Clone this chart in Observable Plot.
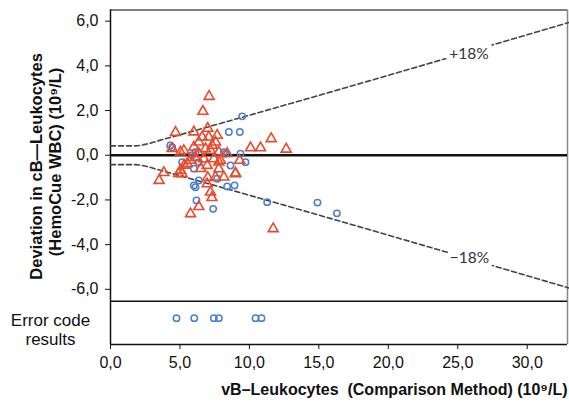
<!DOCTYPE html>
<html><head><meta charset="utf-8">
<script src="https://cdn.jsdelivr.net/npm/d3@7"></script>
<script src="https://cdn.jsdelivr.net/npm/@observablehq/plot@0.6"></script>
<style>body{margin:0;background:#fff}#chart{width:569px;height:405px}</style>
</head><body><div id="chart"></div>
<script>
// Red triangles (x: comparison method, y: deviation)
const triX = [7.1,6.65,4.68,6.0,6.6,7.08,7.68,6.36,7.32,6.84,4.44,5.28,7.2,7.8,10.08,10.8,11.57,12.65,5.76,5.04,3.84,3.5,6.96,7.8,9.0,7.0,8.16,7.2,6.36,5.76,11.71,7.92,9.3,8.4,6.36,6.72,7.44,6.0,5.04,7.56,6.96,5.52,4.9,5.16,7.56,7.8,9.0,6.5,6.1,7.0,5.3,7.3];
const triY = [2.63,1.96,1.02,1.04,0.81,0.81,0.89,0.59,0.44,0.29,0.3,0.21,0.21,0.14,0.33,0.33,0.74,0.27,-0.23,-0.68,-0.78,-1.13,-0.46,-0.61,-0.8,-1.0,-0.98,-1.65,-2.3,-2.62,-3.29,-0.23,-0.23,0.07,0.07,-0.16,-0.16,0.36,0.14,0.59,-1.28,-0.38,-0.82,-0.83,-0.98,-0.31,-0.83,-0.6,-0.1,1.2,-0.45,-1.9];
// Blue circles
const cirX = [9.48,8.52,9.31,4.44,6.12,8.16,9.36,9.72,5.16,6.0,8.64,6.36,6.12,7.68,8.4,8.93,6.19,7.39,11.28,5.88,6.36,14.9,16.3,8.28,6.0,4.3];
const cirY = [1.74,1.04,1.04,0.36,0.14,0.14,0.07,-0.31,-0.31,-0.6,-0.46,-1.13,-1.43,-1.05,-1.4,-1.35,-2.02,-2.4,-2.1,0.0,-0.31,-2.12,-2.6,0.07,-1.35,0.44];
// Error code results (x only)
const errX = [4.75,6.03,7.44,7.8,10.44,10.87];
const errLevel = -7.29;
// ±18% limit lines
const limX = [0,1.8,2.6,3.4,4.5,33];
const limUpper = [0.42,0.42,0.5,0.64,0.83,5.94];
const limLower = [-0.42,-0.42,-0.5,-0.64,-0.83,-5.94];
const yTicks = [-6,-4,-2,0,2,4,6];
const xTicks = [0,5,10,15,20,25,30];
const xTitle = "vB–Leukocytes  (Comparison Method) (10⁹/L)";
const yTitle1 = "Deviation in cB—Leukocytes";
const yTitle2 = "(HemoCue WBC) (10⁹/L)";

const tri = triX.map((x,i)=>({x, y: triY[i]}));
const cir = cirX.map((x,i)=>({x, y: cirY[i]}));
const err = errX.map(x=>({x, y: errLevel}));
const upper = limX.map((x,i)=>({x, y: limUpper[i]}));
const lower = limX.map((x,i)=>({x, y: limLower[i]}));
const fmt = d => d.toFixed(1).replace(".", ",");

const chart = Plot.plot({
  width: 569, height: 405,
  marginLeft: 110, marginRight: 2, marginTop: 9.5, marginBottom: 61,
  x: {domain: [0, 32.9]},
  y: {domain: [-8.47, 6.5]},
  style: {fontFamily: "'Liberation Sans', Arial, sans-serif", fontSize: "16px", color: "#111", background: "#fff"},
  marks: [
    Plot.axisY(yTicks, {tickSize: 5, tickPadding: 7, tickFormat: fmt, label: null, fontSize: 16}),
    Plot.axisX(xTicks, {tickSize: 5, tickPadding: 7, tickFormat: fmt, label: null, fontSize: 16}),
    Plot.ruleY([6.5], {stroke: "#555", strokeWidth: 1.5}),
    Plot.ruleX([32.9], {stroke: "#888", strokeWidth: 1.5}),
    Plot.ruleX([0], {stroke: "#111", strokeWidth: 1.5}),
    Plot.ruleY([-8.47], {stroke: "#111", strokeWidth: 1.5}),
    Plot.ruleY([-6.53], {stroke: "#111", strokeWidth: 1.5}),
    Plot.line(upper, {x: "x", y: "y", curve: "monotone-x", stroke: "#444", strokeWidth: 1.6, strokeDasharray: "5,3"}),
    Plot.line(lower, {x: "x", y: "y", curve: "monotone-x", stroke: "#444", strokeWidth: 1.6, strokeDasharray: "5,3"}),
    Plot.ruleY([0], {stroke: "#111", strokeWidth: 2.5}),
    Plot.dot(cir, {x: "x", y: "y", r: 3.2, stroke: "#4a7fcf", strokeWidth: 1.5, fill: "none"}),
    Plot.dot(tri, {x: "x", y: "y", symbol: "triangle", r: 3.7, stroke: "#e84a2c", strokeWidth: 1.6, fill: "none"}),
    Plot.dot(err, {x: "x", y: "y", r: 3.2, stroke: "#4a7fcf", strokeWidth: 1.5, fill: "none"}),
    Plot.text([{t: "+18%", x: 25.8, y: 4.55}, {t: "\u221218%", x: 25.85, y: -4.62}], {x: "x", y: "y", text: "t", fontFamily: "Lato", fontSize: 15.5, fill: "#333", stroke: "white", strokeWidth: 10}),
    Plot.text([{t: "Error code\nresults", y: -7.78}], {y: "y", text: "t", frameAnchor: "left", dx: -60, textAnchor: "middle", lineHeight: 1.15, fontSize: 17, fill: "#111"}),
    Plot.text([{t: yTitle1, y: -0.5}], {y: "y", text: "t", frameAnchor: "left", dx: -74, rotate: -90, textAnchor: "middle", fontWeight: "bold", fontSize: 16.5, fill: "#111"}),
    Plot.text([{t: yTitle2, y: -0.3}], {y: "y", text: "t", frameAnchor: "left", dx: -55, rotate: -90, textAnchor: "middle", fontWeight: "bold", fontSize: 16.5, fill: "#111"}),
    Plot.text([{t: xTitle}], {text: "t", frameAnchor: "bottom-right", dy: 50, textAnchor: "end", fontWeight: "bold", fontSize: 16, fill: "#111"})
  ]
});
document.getElementById("chart").appendChild(chart);
</script>
</body></html>
